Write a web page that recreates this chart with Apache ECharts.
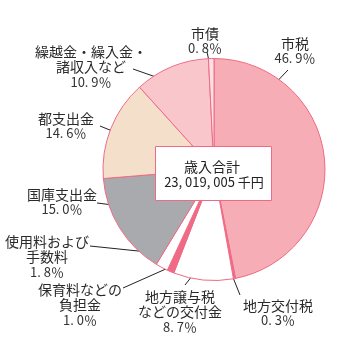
<!DOCTYPE html>
<html><head><meta charset="utf-8">
<script src="https://cdn.jsdelivr.net/npm/echarts@6/dist/echarts.min.js"></script>
<style>html,body{margin:0;padding:0;background:#fff}#c{width:360px;height:360px}</style>
</head><body><div id="c"></div>
<script>
const categories = ['市税','地方交付税','地方譲与税など','保育料など','使用料','国庫支出金','都支出金','繰越金など','市債'];
const labelNames = ['市税','地方交付税','地方譲与税\nなどの交付金','保育料などの\n負担金','使用料および\n手数料','国庫支出金','都支出金','繰越金・繰入金・\n諸収入など','市債'];
const values = [46.9, 0.3, 8.7, 1.0, 1.8, 15.0, 14.6, 10.9, 0.8];
const totalLabel = ['歳入合計', '23, 019, 005 千円'];

const colors = ['#f6adb5','#ef6a85','#ffffff','#ef6a85','#ffffff','#a9aaae','#f4dfcb','#f9c7cb','#fbe1e4'];
// label anchor (center) and leader line [inner, outer]
const labelPos = [
  {x:295, y:51, line:[[266,93],[288,70]]},
  {x:278, y:313, line:[[232,275],[240,295]]},
  {x:180, y:312, line:[[200,266],[185,285]]},
  {x:80, y:305, line:[[168,268],[123,288]]},
  {x:47, y:257, line:[[167,254],[90,246]]},
  {x:62, y:202, line:[[145,209],[97,203]]},
  {x:66, y:126, line:[[127,137],[100,126]]},
  {x:91, y:67, line:[[173,83],[133,69]]},
  {x:205, y:41, line:[[211,70],[207,52]]}
];

const fmtPct = v => { const s = v.toFixed(1).split('.'); return s[0] + '. ' + s[1] + '％'; };
const FF = '"Noto Sans CJK JP", sans-serif';

const chart = echarts.init(document.getElementById('c'), null, {renderer:'canvas'});
chart.setOption({
  animation: false,
  textStyle: {fontFamily: FF},
  series: [{
    type: 'pie',
    center: [214, 169.5],
    radius: 111,
    startAngle: 90,
    clockwise: true,
    avoidLabelOverlap: false,
    data: categories.map((c, i) => ({name: c, value: values[i], itemStyle: {color: colors[i]}})),
    itemStyle: {borderColor: '#ee6a85', borderWidth: 1},
    label: {
      show: true, position: 'outside',
      formatter: p => labelNames[p.dataIndex].split('\n').map(s => '{n|' + s + '}').join('\n') + '\n{p|' + fmtPct(values[p.dataIndex]) + '}',
      fontFamily: FF, fontSize: 13, lineHeight: 15, color: '#2a2a2a', align: 'center',
      rich: {
        n: {fontFamily: FF, fontSize: 14, lineHeight: 15, color: '#2a2a2a'},
        p: {fontFamily: FF, fontSize: 13, lineHeight: 15, color: '#333'}
      }
    },
    labelLine: {show: true, lineStyle: {color: '#222', width: 1}},
    labelLayout: p => {
      const L = labelPos[p.dataIndex];
      return {x: L.x, y: L.y, align: 'center', verticalAlign: 'middle',
        labelLinePoints: [L.line[0], L.line[1], L.line[1]]};
    },
    emphasis: {disabled: true}
  }],
  graphic: [{
    type: 'group', z: 100,
    children: [
      {type: 'rect', z: 100, shape: {x: 155.5, y: 146.5, width: 116, height: 54},
        style: {fill: '#fff', stroke: '#ee6a85', lineWidth: 1}},
      {type: 'text', z: 101, x: 212, y: 167, style: {text: totalLabel[0], font: '14px "Noto Sans CJK JP"', fill: '#222', align: 'center', verticalAlign: 'middle'}},
      {type: 'text', z: 101, x: 214, y: 182, style: {text: totalLabel[1], font: '13px "Noto Sans CJK JP"', fill: '#222', align: 'center', verticalAlign: 'middle'}}
    ]
  }]
});
</script></body></html>
